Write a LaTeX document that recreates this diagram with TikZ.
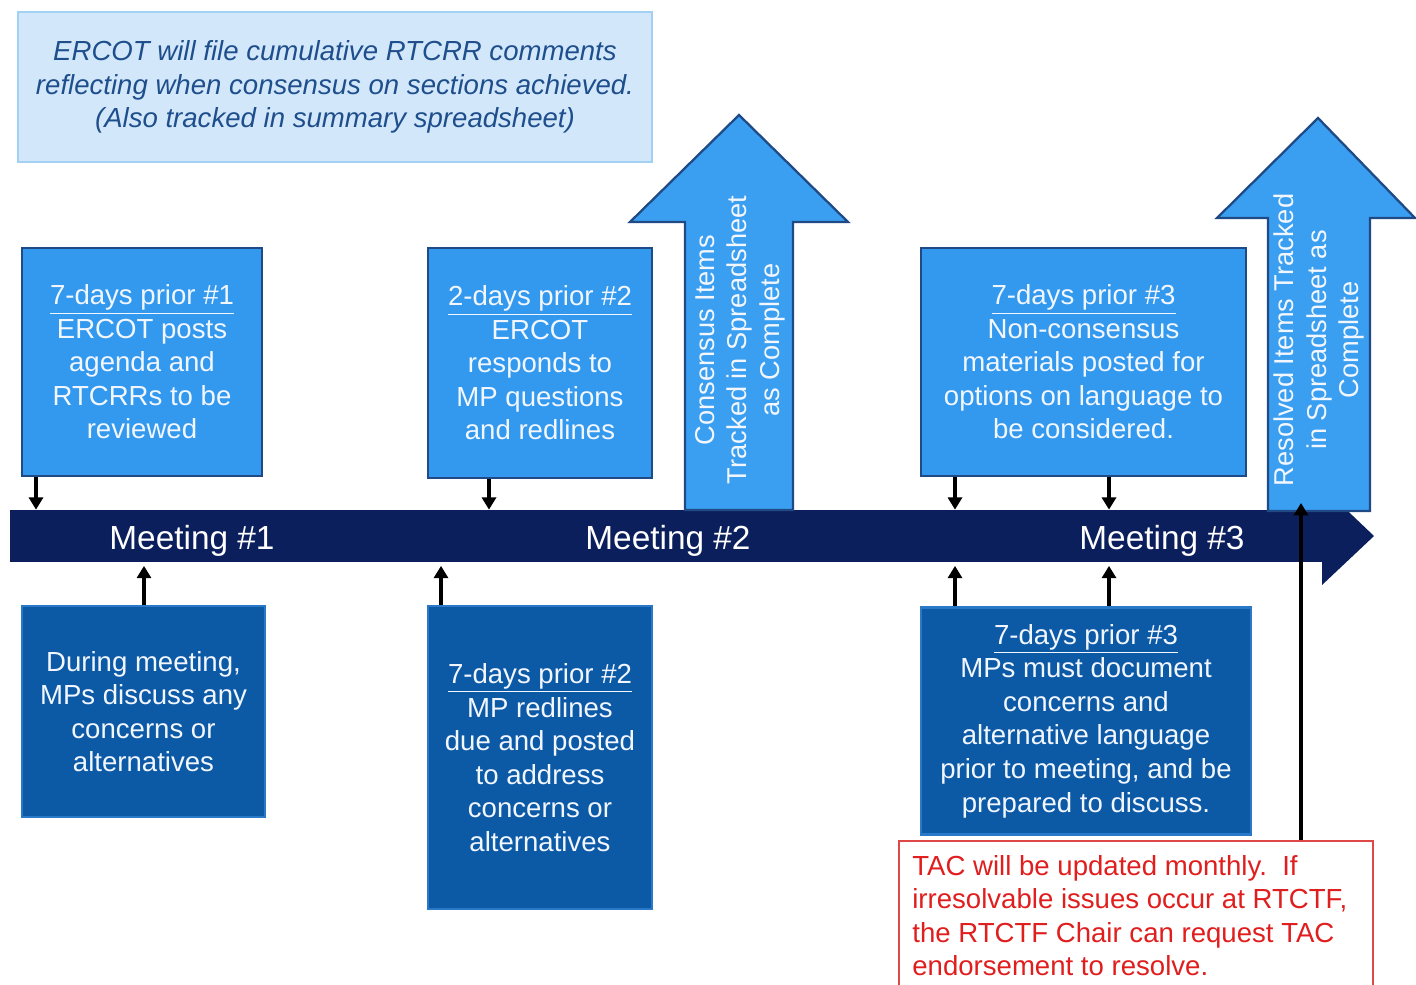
\documentclass[tikz,border=0pt]{standalone}
\usepackage{fontspec}
\setmainfont{Liberation Sans}
\usetikzlibrary{arrows.meta}

\definecolor{notefill}{HTML}{D2E8FA}
\definecolor{noteline}{HTML}{A3D1F3}
\definecolor{notetext}{HTML}{1F4E8C}
\definecolor{topfill}{HTML}{3399EE}
\definecolor{topline}{HTML}{1F4A85}
\definecolor{botfill}{HTML}{0C5AA6}
\definecolor{botline}{HTML}{2A78C8}
\definecolor{barfill}{HTML}{0B1F5C}
\definecolor{upfill}{HTML}{3A9FF0}
\definecolor{redline}{HTML}{E04848}
\definecolor{redtext}{HTML}{E01E1E}
\definecolor{boxtext}{HTML}{F2F6FF}

\tikzset{
  topbox/.style={draw=topline, line width=1.5pt, fill=topfill, text=boxtext,
    align=center, inner sep=0pt, font=\fontsize{15.7}{19.1}\selectfont},
  botbox/.style={draw=botline, line width=1.2pt, fill=botfill, text=boxtext,
    align=center, inner sep=0pt, font=\fontsize{15.7}{19.1}\selectfont},
  notebox/.style={draw=noteline, line width=1.5pt, fill=notefill, text=notetext,
    align=center, inner sep=0pt, font=\fontsize{15.7}{19.2}\selectfont\itshape},
  meet/.style={text=white, font=\fontsize{19}{22}\selectfont},
  uparrow/.style={draw=topline, line width=1.3pt, fill=upfill},
  uplabel/.style={rotate=90, text=boxtext, align=center,
    font=\fontsize{15.5}{18.4}\selectfont},
  tick/.style={-{Triangle[width=8pt,length=7pt]}, line width=1.8pt},
}

\begin{document}
\begin{tikzpicture}[x=0.02cm, y=-0.02cm]
\useasboundingbox (0,0) rectangle (1416,984);

\node[notebox, minimum width=12.68cm, minimum height=3cm] (note) at (335,87)
  {ERCOT will file cumulative RTCRR comments\\reflecting when consensus on sections achieved.\\(Also tracked in summary spreadsheet)};

% timeline
\node[fill=barfill, minimum width=26.24cm, minimum height=1.04cm, inner sep=0pt] (bar) at (666,536) {};
\fill[barfill] (bar.north east) -- ++(0,-23) -- (1374,536) -- (1322,585) -- (bar.south east) -- cycle;
\node[meet] (m1) at (192,541) {Meeting \#1};
\node[meet] (m2) at (668,541) {Meeting \#2};
\node[meet] (m3) at (1162,541) {Meeting \#3};

\draw[uparrow] (685,510) -- (685,222) -- (630,222) -- (739,115) -- (848,222) -- (793,222) -- (793,510) -- cycle;
\node[uplabel] (cons) at (740,340) {Consensus Items\\Tracked in Spreadsheet\\as Complete};
\draw[uparrow] (1268,511) -- (1268,218) -- (1217,218) -- (1318,118) -- (1415,218) -- (1370,218) -- (1370,511) -- cycle;
\node[uplabel] (resv) at (1319,340) {Resolved Items Tracked\\in Spreadsheet as\\Complete};

% boxes above
\node[topbox, minimum width=4.8cm, minimum height=4.56cm] (p1) at (142,362)
  {\underline{7-days prior \#1}\\ERCOT posts\\agenda and\\RTCRRs to be\\reviewed};
\node[topbox, minimum width=4.48cm, minimum height=4.6cm] (p2) at (540,363)
  {\underline{2-days prior \#2}\\ERCOT\\responds to\\MP questions\\and redlines};
\node[topbox, minimum width=6.5cm, minimum height=4.56cm] (p3) at (1083.5,362)
  {\underline{7-days prior \#3}\\Non-consensus\\materials posted for\\options on language to\\be considered.};

% boxes below
\node[botbox, minimum width=4.86cm, minimum height=4.22cm] (d1) at (143.5,711.5)
  {During meeting,\\MPs discuss any\\concerns or\\alternatives};
\node[botbox, minimum width=4.48cm, minimum height=6.06cm] (d2) at (540,757.5)
  {\underline{7-days prior \#2}\\MP redlines\\due and posted\\to address\\concerns or\\alternatives};
\node[botbox, minimum width=6.6cm, minimum height=4.54cm] (d3) at (1086,721)
  {\underline{7-days prior \#3}\\MPs must document\\concerns and\\alternative language\\prior to meeting, and be\\prepared to discuss.};

\node[draw=redline, line width=1.2pt, anchor=north west, minimum width=9.48cm, minimum height=3.4cm, inner sep=0pt] (tac) at (898,840) {};
\node[text=redtext, align=left, anchor=north west, inner sep=0pt, font=\fontsize{15.7}{19}\selectfont] (tactext)
  at ([xshift=0.28cm, yshift=-0.3cm]tac.north west)
  {TAC will be updated monthly.~~If\\irresolvable issues occur at RTCTF,\\the RTCTF Chair can request TAC\\endorsement to resolve.};

% ticks
\coordinate (c1) at (36,0);
\coordinate (c2) at (489,0);
\coordinate (c3) at (955,0);
\coordinate (c4) at (1109,0);
\coordinate (c5) at (144,0);
\coordinate (c6) at (441,0);
\coordinate (tipB) at (1301,503);
\draw[tick] (p1.south -| c1) -- (bar.north -| c1);
\draw[tick] (p2.south -| c2) -- (bar.north -| c2);
\draw[tick] (p3.south -| c3) -- (bar.north -| c3);
\draw[tick] (p3.south -| c4) -- (bar.north -| c4);
\draw[tick, shorten >=2pt] (d1.north -| c5) -- (bar.south -| c5);
\draw[tick, shorten >=2pt] (d2.north -| c6) -- (bar.south -| c6);
\draw[tick, shorten >=2pt] (d3.north -| c3) -- (bar.south -| c3);
\draw[tick, shorten >=2pt] (d3.north -| c4) -- (bar.south -| c4);
\draw[tick] (tac.north -| tipB) -- (tipB);
\end{tikzpicture}
\end{document}
